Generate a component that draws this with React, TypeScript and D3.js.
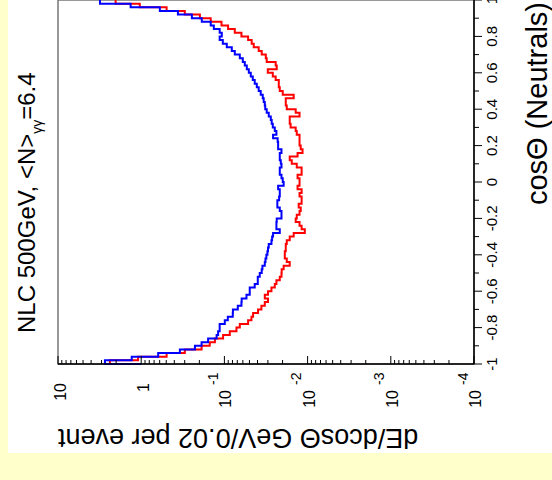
import React from 'react';
import * as d3 from 'd3';

// cosTheta histogram, 100 bins of 0.02 from -1 to 1
const binWidth = 0.02;
const nBins = 100;

// red histogram, bins from cos=-1 upward
const redValues = [
  2.38, 1.09, 0.495, 0.299, 0.188, 0.150, 0.130, 0.1037, 0.0861, 0.0716,
  0.0653, 0.0519, 0.0473, 0.0452, 0.0394, 0.0359, 0.0327, 0.0299, 0.0327, 0.0299,
  0.0272, 0.0248, 0.0237, 0.0216, 0.0206, 0.0205, 0.0194, 0.0164, 0.0178, 0.0188,
  0.0188, 0.0183, 0.0183, 0.0178, 0.0164, 0.0147, 0.0108, 0.0118, 0.0125, 0.0139,
  0.0135, 0.0125, 0.0121, 0.0128, 0.0118, 0.0118, 0.0125, 0.0118, 0.0132, 0.0125,
  0.0125, 0.0132, 0.0118, 0.0118, 0.0135, 0.0155, 0.0164, 0.0132, 0.0115, 0.0121,
  0.0125, 0.0125, 0.0125, 0.0135, 0.0139, 0.0160, 0.0164, 0.0164, 0.0125, 0.0139,
  0.0178, 0.0183, 0.0183, 0.0147, 0.0199, 0.0216, 0.0222, 0.0222, 0.0242, 0.0262,
  0.0301, 0.0235, 0.0242, 0.0310, 0.0318, 0.0356, 0.0387, 0.0444, 0.0470, 0.0519,
  0.0624, 0.0750, 0.0903, 0.1084, 0.146, 0.197, 0.299, 0.495, 1.04, 2.03,
];

// blue histogram
const blueValues = [
  2.73, 1.30, 0.625, 0.343, 0.226, 0.188, 0.157, 0.124, 0.119, 0.114,
  0.114, 0.0989, 0.0910, 0.0793, 0.0790, 0.0690, 0.0624, 0.0620, 0.0543, 0.0496,
  0.0496, 0.0432, 0.0397, 0.0397, 0.0376, 0.0356, 0.0349, 0.0327, 0.0321, 0.0313,
  0.0304, 0.0299, 0.0293, 0.0272, 0.0267, 0.0260, 0.0216, 0.0237, 0.0237, 0.0235,
  0.0206, 0.0206, 0.0216, 0.0231, 0.0231, 0.0220, 0.0216, 0.0216, 0.0226, 0.0194,
  0.0199, 0.0206, 0.0216, 0.0216, 0.0206, 0.0210, 0.0216, 0.0216, 0.0206, 0.0226,
  0.0226, 0.0229, 0.0260, 0.0237, 0.0248, 0.0262, 0.0270, 0.0277, 0.0293, 0.0310,
  0.0323, 0.0327, 0.0337, 0.0346, 0.0366, 0.0387, 0.0408, 0.0432, 0.0456, 0.0482,
  0.0509, 0.0538, 0.0569, 0.0601, 0.0653, 0.0750, 0.0815, 0.0936, 0.1045, 0.114,
  0.1075, 0.114, 0.134, 0.146, 0.187, 0.246, 0.362, 0.597, 1.34, 3.13,
];

const cosTicks = [-1, -0.8, -0.6, -0.4, -0.2, 0, 0.2, 0.4, 0.6, 0.8, 1];
const cosTickLabels = ['-1', '-0.8', '-0.6', '-0.4', '-0.2', '0', '0.2', '0.4', '0.6', '0.8', '1'];
const logTicks = [10, 1, 0.1, 0.01, 0.001, 0.0001];
const logTickBase = ['10', '1', '10', '10', '10', '10'];
const logTickExp = ['', '', '-1', '-2', '-3', '-4'];

const FONT = "'Liberation Sans', Arial, Helvetica, sans-serif";

export default function App() {
  const width = 552;
  const height = 480;
  const left = 58; // frame left (log axis start, value 10)
  const bottom = 364; // frame bottom (cos = -1)
  const cosLen = 364;
  const valLen = 416;

  // the plot is drawn in its own frame then turned by -90 degrees
  const x = d3.scaleLinear().domain([-1, 1]).range([0, cosLen]);
  const y = d3.scaleLog().domain([1e-4, 10]).range([valLen, 0]);

  const edges = d3.range(nBins + 1).map(i => -1 + i * binWidth);

  const histPath = (vals: number[]) => {
    const pts: [number, number][] = [[edges[0], 1]];
    vals.forEach((v, i) => pts.push([edges[i], v]));
    pts.push([edges[vals.length], vals[vals.length - 1]]);
    return d3.line<[number, number]>()
      .x(d => x(d[0]))
      .y(d => y(d[1]))
      .curve(d3.curveStepAfter)(pts) || '';
  };

  const logMinor = y.ticks();
  const cosMinor = d3.range(21).map(i => -1 + i * 0.1);

  return (
    <svg width={width} height={height} style={{ position: 'fixed', left: 0, top: 0 }}
      fontFamily={FONT}>
      <rect width={width} height={height} fill="#ffffcc" />
      <rect x={8} y={0} width={544} height={453} fill="#ffffff" />

      <g transform={`translate(${left},${bottom}) rotate(-90)`}>
        {/* frame */}
        <rect x={0} y={0} width={cosLen} height={valLen} fill="none" stroke="#777" strokeWidth={1.5} />

        {/* histograms */}
        <path d={histPath(redValues)} fill="none" stroke="#ff0000" strokeWidth={2} />
        <path d={histPath(blueValues)} fill="none" stroke="#0000ff" strokeWidth={2} />

        {/* log axis (left in plot frame) */}
        <line x1={0} x2={0} y1={0} y2={valLen} stroke="#000" strokeWidth={1.5} />
        {logMinor.map((t, i) => {
          const major = Math.abs(Math.log10(t) - Math.round(Math.log10(t))) < 1e-6;
          return (
            <line key={`lt${i}`} x1={0} x2={major ? 8 : 4} y1={y(t)} y2={y(t)}
              stroke="#000" strokeWidth={1} />
          );
        })}
        {logTicks.map((t, i) => (
          logTickExp[i] === '' ? (
            <text key={`ll${i}`} x={-19} y={y(t) + 8} textAnchor="end" fontSize={16} fill="#000">
              {logTickBase[i]}
            </text>
          ) : (
            <g key={`ll${i}`}>
              <text x={-26} y={y(t) + 7} textAnchor="end" fontSize={16} fill="#000">
                {logTickBase[i]}
              </text>
              <text x={-21} y={y(t) - 6.5} textAnchor="start" fontSize={14} fill="#000">
                {logTickExp[i]}
              </text>
            </g>
          )
        ))}

        {/* cos axis (bottom in plot frame) */}
        <line x1={0} x2={cosLen} y1={valLen} y2={valLen} stroke="#000" strokeWidth={1.5} />
        {cosMinor.map((t, i) => (
          <line key={`ct${i}`} x1={x(t)} x2={x(t)} y1={valLen} y2={valLen + (i % 2 === 0 ? 8 : 5)}
            stroke="#000" strokeWidth={1} />
        ))}
        {cosTicks.map((t, i) => (
          <text key={`cl${i}`} x={x(t)} y={valLen + 23} textAnchor="middle" fontSize={15} fill="#000">
            {cosTickLabels[i]}
          </text>
        ))}
        <text x={cosLen - 2} y={valLen + 73} textAnchor="end" fontSize={29} fill="#000">
          cosΘ (Neutrals)
        </text>

        {/* value axis title */}
        <text transform={`translate(-65,0) rotate(-90)`} x={0} y={0} textAnchor="end"
          fontSize={27} fill="#000">
          dE/dcosΘ GeV/0.02 per event
        </text>

        {/* title */}
        <text x={31} y={-23} fontSize={24} fill="#000">
          NLC 500GeV, &lt;N&gt;<tspan fontSize={14} dy={7}>γγ</tspan><tspan dy={-7}>=6.4</tspan>
        </text>
      </g>
    </svg>
  );
}
